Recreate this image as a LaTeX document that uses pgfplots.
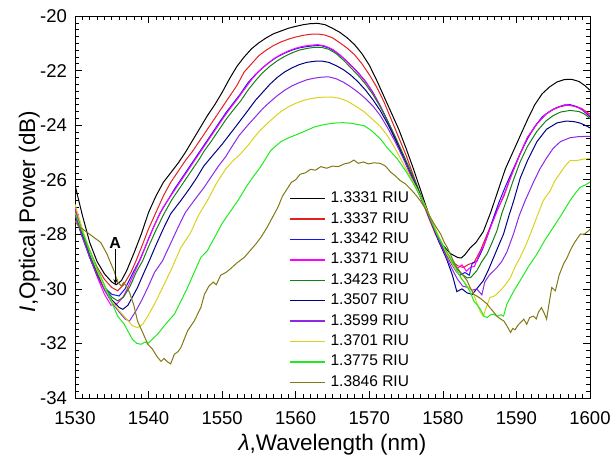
\documentclass[border=0pt]{standalone}
\usepackage{fontspec}
\setmainfont{Liberation Sans}
\usepackage{pgfplots}
\pgfplotsset{compat=1.18}
\usetikzlibrary{arrows.meta}
\definecolor{cblack}{RGB}{0,0,0}
\definecolor{cred}{RGB}{228,32,32}
\definecolor{cblue}{RGB}{20,20,240}
\definecolor{cmag}{RGB}{255,0,255}
\definecolor{cdgreen}{RGB}{20,128,20}
\definecolor{cnavy}{RGB}{0,0,130}
\definecolor{cpurple}{RGB}{140,40,230}
\definecolor{cyellow}{RGB}{218,210,30}
\definecolor{clgreen}{RGB}{30,235,30}
\definecolor{colive}{RGB}{130,120,20}
\begin{document}
\begin{tikzpicture}
\useasboundingbox (-75bp,-61bp) rectangle (537bp,398bp);
\begin{axis}[
  at={(0,0)}, anchor=south west,
  scale only axis, width=515bp, height=382bp,
  xmin=1530, xmax=1600, ymin=-34, ymax=-20,
  xtick={1530,1540,1550,1560,1570,1580,1590,1600},
  xticklabels={1530,1540,1550,1560,1570,1580,1590,1600},
  ytick={-34,-32,-30,-28,-26,-24,-22,-20},
  yticklabels={-34,-32,-30,-28,-26,-24,-22,-20},
  minor x tick num=9, minor y tick num=7,
  tick align=inside,
  major tick length=7bp, minor tick length=4bp,
  tick style={black, line width=0.6bp},
  axis line style={line width=0.8bp},
  ticklabel style={font=\fontsize{18.5bp}{20bp}\selectfont},
  xticklabel style={yshift=-10bp},
  yticklabel style={xshift=-4.5bp},
  xlabel={\textit{λ},Wavelength (nm)},
  ylabel={\textit{I},Optical Power (dB)},
  label style={font=\fontsize{22.5bp}{24bp}\selectfont},
  xlabel style={at={(axis description cs:0.5,-0.138)}, anchor=base},
  ylabel style={at={(axis description cs:-0.0775,0.488)}, anchor=base},
  every axis plot/.append style={line width=1bp},
  legend cell align=left,
  legend image code/.code={\draw[#1, line width=1.4bp] (0bp,0bp) -- (35bp,0bp);},
  legend style={draw=none, fill=none, at={(axis description cs:0.4155,0.542)}, anchor=north west,
    font=\fontsize{15.5bp}{17bp}\selectfont, row sep=5.4bp, inner sep=0pt,
    nodes={inner sep=0pt, text height=11.5bp, text depth=3.5bp},
    /tikz/every odd column/.append style={column sep=5bp}},
]
\addplot[cblack] coordinates {(1530,-26.2)(1531,-27.3)(1532,-28.3)(1533,-29.0)(1534,-29.45)(1535,-29.75)(1535.6,-29.85)(1536.3,-29.7)(1537,-29.35)(1538,-28.7)(1539,-28.0)(1540,-27.2)(1541,-26.6)(1542,-26.1)(1543,-25.75)(1544,-25.4)(1545,-25.0)(1546,-24.55)(1547,-24.1)(1548,-23.65)(1549,-23.25)(1550,-22.8)(1551,-22.3)(1552,-21.85)(1553,-21.5)(1554,-21.2)(1555,-20.98)(1556,-20.8)(1557,-20.65)(1558,-20.55)(1559,-20.45)(1560,-20.38)(1561,-20.32)(1562,-20.28)(1563,-20.27)(1564,-20.32)(1565,-20.45)(1566,-20.6)(1567,-20.8)(1568,-21.05)(1569,-21.38)(1570,-21.8)(1571,-22.35)(1572,-22.95)(1573,-23.55)(1574,-24.15)(1575,-24.85)(1576,-25.6)(1577,-26.4)(1578,-27.2)(1579,-27.9)(1580,-28.4)(1581,-28.7)(1582,-28.85)(1582.5,-28.87)(1583,-28.75)(1583.7,-28.5)(1584.5,-28.3)(1585.5,-27.9)(1586.5,-27.2)(1587.5,-26.4)(1588.5,-25.6)(1589.5,-25.0)(1590.5,-24.4)(1591.5,-23.8)(1592.5,-23.25)(1593.5,-22.85)(1594.5,-22.6)(1595.5,-22.42)(1596.5,-22.33)(1597.5,-22.32)(1598.5,-22.4)(1599.3,-22.55)(1600,-22.72)};
\addlegendentry{1.3331 RIU}
\addplot[cred] coordinates {(1530,-27.1)(1531,-27.9)(1532,-28.6)(1533,-29.2)(1534,-29.65)(1535,-29.95)(1535.8,-30.07)(1536.6,-29.85)(1537.6,-29.4)(1538.3,-28.97)(1539,-28.5)(1540,-27.8)(1541,-27.2)(1542,-26.6)(1543,-26.1)(1544,-25.7)(1545,-25.3)(1546,-24.95)(1547,-24.55)(1548,-24.15)(1549,-23.75)(1550,-23.35)(1551,-22.95)(1552,-22.55)(1553,-22.05)(1554,-21.75)(1555,-21.45)(1556,-21.25)(1557,-21.08)(1558,-20.95)(1559,-20.85)(1560,-20.77)(1561,-20.71)(1562,-20.67)(1563,-20.66)(1564,-20.7)(1565,-20.8)(1566,-20.98)(1567,-21.18)(1568,-21.42)(1569,-21.75)(1570,-22.15)(1571,-22.6)(1572,-23.15)(1573,-23.8)(1574,-24.45)(1575,-25.1)(1576,-25.85)(1577,-26.6)(1578,-27.35)(1579,-28.0)(1580,-28.55)(1581,-28.95)(1582,-29.15)(1582.8,-29.22)(1583.5,-29.1)(1584.2,-29.05)(1585.1,-28.6)(1586.4,-27.75)(1587.3,-27.15)(1588.3,-26.6)(1589.3,-25.85)(1590.5,-25.05)(1591.5,-24.45)(1592.8,-23.95)(1594,-23.6)(1595,-23.42)(1596,-23.32)(1596.9,-23.27)(1597.8,-23.3)(1598.8,-23.38)(1600,-23.6)};
\addlegendentry{1.3337 RIU}
\addplot[cblue] coordinates {(1530,-27.2)(1531,-28.0)(1532,-28.8)(1533,-29.45)(1534,-29.95)(1535,-30.2)(1536,-30.26)(1536.8,-30.0)(1537.8,-29.45)(1538.75,-28.97)(1539.5,-28.5)(1540.5,-27.85)(1541.5,-27.25)(1542.6,-26.76)(1543.5,-26.35)(1544.5,-25.95)(1545.5,-25.55)(1546.5,-25.15)(1547.5,-24.75)(1548.5,-24.35)(1549.5,-23.95)(1550.5,-23.55)(1551.5,-23.2)(1552.5,-22.85)(1553.5,-22.45)(1554.5,-22.15)(1555.5,-21.9)(1556.5,-21.68)(1557.5,-21.5)(1558.5,-21.36)(1559.5,-21.25)(1560.5,-21.17)(1561.5,-21.12)(1562.5,-21.09)(1563.5,-21.09)(1564.5,-21.17)(1565.5,-21.33)(1566.5,-21.55)(1567.5,-21.8)(1568.5,-22.08)(1569.5,-22.4)(1570.5,-22.8)(1571.5,-23.3)(1572.5,-23.85)(1573.5,-24.45)(1574.5,-25.1)(1575.5,-25.75)(1576.5,-26.35)(1577.5,-26.95)(1578.5,-27.6)(1579.5,-28.2)(1580.5,-28.75)(1581.2,-29.1)(1581.8,-29.35)(1582.3,-29.5)(1583,-29.4)(1583.6,-29.5)(1584,-29.05)(1584.6,-29.0)(1585.4,-28.55)(1586.2,-27.95)(1587,-27.3)(1587.6,-26.85)(1588.5,-26.25)(1589.5,-25.65)(1590.5,-25.05)(1591.5,-24.5)(1592.5,-24.05)(1593.5,-23.7)(1594.5,-23.5)(1595.5,-23.35)(1596.5,-23.26)(1597.3,-23.25)(1598.2,-23.32)(1599,-23.45)(1600,-23.7)};
\addlegendentry{1.3342 RIU}
\addplot[cmag] coordinates {(1530,-27.0)(1531,-27.9)(1532,-28.8)(1533,-29.55)(1534,-30.2)(1534.9,-30.6)(1535.7,-30.55)(1536.5,-30.32)(1537.1,-30.0)(1538,-29.45)(1539,-28.85)(1540,-28.15)(1541,-27.55)(1542,-27.0)(1543,-26.6)(1544,-26.2)(1545,-25.8)(1546,-25.4)(1547,-25.0)(1548,-24.6)(1549,-24.2)(1550,-23.8)(1551,-23.42)(1552,-23.07)(1553,-22.7)(1554,-22.33)(1555,-22.02)(1556,-21.78)(1557,-21.57)(1558,-21.41)(1559,-21.28)(1560,-21.18)(1561,-21.11)(1562,-21.07)(1563,-21.05)(1564,-21.1)(1565,-21.22)(1566,-21.42)(1567,-21.68)(1568,-21.95)(1569,-22.25)(1570,-22.6)(1571,-23.05)(1572,-23.58)(1573,-24.15)(1574,-24.78)(1575,-25.42)(1576,-26.05)(1577,-26.68)(1578,-27.3)(1579,-27.9)(1580,-28.45)(1581,-28.9)(1582,-29.25)(1582.6,-29.12)(1583.2,-29.35)(1583.8,-29.2)(1584.3,-29.18)(1585,-28.7)(1585.6,-28.4)(1586.4,-27.8)(1587.3,-27.2)(1588.3,-26.55)(1589.3,-25.85)(1590.5,-25.05)(1591.5,-24.45)(1592.8,-23.95)(1594,-23.6)(1595,-23.42)(1596,-23.31)(1596.9,-23.26)(1597.8,-23.3)(1598.8,-23.4)(1600,-23.65)};
\addlegendentry{1.3371 RIU}
\addplot[cdgreen] coordinates {(1530,-27.2)(1531,-28.0)(1532,-28.75)(1533,-29.4)(1534,-29.95)(1535,-30.3)(1535.8,-30.44)(1536.6,-30.3)(1537.5,-29.9)(1538.3,-29.4)(1539.2,-28.97)(1540,-28.45)(1541,-27.85)(1542,-27.3)(1543.1,-26.76)(1544,-26.4)(1545,-26.0)(1546,-25.6)(1547,-25.2)(1547.6,-24.93)(1548.5,-24.6)(1549.5,-24.2)(1550.5,-23.8)(1551.5,-23.45)(1552.5,-23.12)(1553.5,-22.72)(1554.5,-22.38)(1555.5,-22.08)(1556.5,-21.84)(1557.5,-21.64)(1558.5,-21.48)(1559.5,-21.35)(1560.5,-21.25)(1561.5,-21.19)(1562.5,-21.15)(1563.5,-21.15)(1564.5,-21.22)(1565.5,-21.38)(1566.5,-21.62)(1567.5,-21.9)(1568.5,-22.18)(1569.5,-22.5)(1570.5,-22.88)(1571.5,-23.33)(1572.5,-23.85)(1573.5,-24.4)(1574.5,-25.0)(1575.5,-25.6)(1576.5,-26.22)(1577.5,-26.9)(1578.5,-27.55)(1579.5,-28.2)(1580.5,-28.75)(1581.5,-29.12)(1582.5,-29.45)(1583.3,-29.6)(1583.8,-29.58)(1584.6,-29.34)(1585.3,-29.0)(1586,-28.72)(1586.7,-28.3)(1587.35,-27.87)(1588,-27.25)(1588.7,-26.72)(1589.5,-26.08)(1590.5,-25.35)(1591.5,-24.78)(1592.8,-24.22)(1594,-23.85)(1595,-23.65)(1596,-23.52)(1597.3,-23.46)(1598.5,-23.5)(1599.3,-23.6)(1600,-23.76)};
\addlegendentry{1.3423 RIU}
\addplot[cnavy] coordinates {(1530,-27.3)(1531,-28.1)(1532,-28.85)(1533,-29.5)(1534,-30.0)(1535,-30.4)(1536,-30.68)(1536.5,-30.75)(1537.2,-30.6)(1538,-30.2)(1538.5,-29.95)(1539.3,-29.45)(1540.1,-28.97)(1541,-28.4)(1542,-27.8)(1543,-27.25)(1544.4,-26.76)(1545.5,-26.35)(1546.5,-25.95)(1547.5,-25.5)(1548.9,-25.05)(1550,-24.7)(1551,-24.35)(1552,-24.0)(1553.4,-23.5)(1554.5,-23.1)(1555.5,-22.8)(1556.5,-22.5)(1557.5,-22.25)(1558.5,-22.05)(1559.5,-21.9)(1560.5,-21.78)(1561.5,-21.7)(1562.5,-21.66)(1563.5,-21.65)(1564.5,-21.7)(1565.5,-21.82)(1566.5,-21.97)(1567.5,-22.17)(1568.5,-22.42)(1569.5,-22.72)(1570.5,-23.07)(1571.5,-23.47)(1572.5,-23.95)(1573.5,-24.5)(1574.5,-25.1)(1575.5,-25.7)(1576.5,-26.3)(1577.5,-26.95)(1578.5,-27.6)(1579.5,-28.3)(1580.5,-28.9)(1581.3,-29.5)(1581.9,-30.1)(1582.6,-30.0)(1583.3,-30.15)(1584,-30.2)(1584.6,-30.0)(1585.5,-29.7)(1586.2,-29.3)(1586.9,-28.85)(1587.6,-28.4)(1588.25,-27.99)(1589,-27.3)(1589.6,-26.8)(1590.5,-25.95)(1591.5,-25.3)(1592.8,-24.6)(1594.1,-24.15)(1595.5,-23.92)(1596.8,-23.85)(1597.8,-23.87)(1598.6,-23.92)(1599.3,-24.0)(1600,-24.1)};
\addlegendentry{1.3507 RIU}
\addplot[cpurple] coordinates {(1530,-27.3)(1531,-28.1)(1532,-28.85)(1533,-29.5)(1534,-30.05)(1535,-30.5)(1536,-30.85)(1536.8,-31.1)(1537.4,-31.18)(1538.3,-30.8)(1539.1,-30.4)(1539.9,-29.95)(1540.8,-29.4)(1541.9,-28.97)(1542.8,-28.45)(1544,-27.75)(1545,-27.2)(1546.2,-26.76)(1547.5,-26.3)(1548.5,-25.9)(1549.5,-25.5)(1550.5,-25.15)(1551.3,-24.8)(1552.3,-24.38)(1553.5,-24.0)(1554.5,-23.7)(1555.5,-23.4)(1556.5,-23.15)(1557.5,-22.92)(1558.5,-22.72)(1559.5,-22.56)(1560.5,-22.44)(1561.5,-22.34)(1562.5,-22.28)(1563.5,-22.24)(1564.5,-22.23)(1565.5,-22.3)(1566.5,-22.43)(1567.5,-22.6)(1568.5,-22.8)(1569.5,-23.03)(1570.5,-23.3)(1571.5,-23.65)(1572.5,-24.1)(1573.5,-24.6)(1574.5,-25.15)(1575.5,-25.75)(1576.5,-26.35)(1577.5,-26.95)(1578.5,-27.6)(1579.5,-28.25)(1580.5,-28.85)(1581.3,-29.3)(1582,-29.65)(1582.7,-29.9)(1583.4,-29.95)(1584,-30.05)(1584.6,-30.0)(1585.3,-30.22)(1585.7,-29.75)(1586.3,-29.5)(1587.35,-29.22)(1588,-29.0)(1588.7,-28.65)(1589.6,-27.99)(1590.4,-27.3)(1591.2,-26.76)(1592.3,-26.1)(1593.2,-25.6)(1594.1,-25.2)(1595,-24.85)(1596,-24.6)(1597.3,-24.46)(1598.5,-24.42)(1600,-24.41)};
\addlegendentry{1.3599 RIU}
\addplot[cyellow] coordinates {(1530,-26.9)(1531,-27.8)(1532,-28.6)(1533,-29.3)(1534,-29.95)(1535,-30.45)(1536,-30.8)(1537,-31.1)(1537.8,-31.35)(1538.5,-31.42)(1539.2,-31.3)(1540,-30.95)(1540.8,-30.56)(1542,-29.9)(1543,-29.34)(1544.4,-28.48)(1545.7,-27.95)(1546.8,-27.3)(1548,-26.76)(1549.3,-26.1)(1550.5,-25.6)(1551.5,-25.3)(1552.5,-25.05)(1553.5,-24.75)(1554.5,-24.4)(1555.5,-24.1)(1556.5,-23.85)(1557.2,-23.68)(1558,-23.5)(1559,-23.33)(1560,-23.2)(1561.1,-23.09)(1562,-23.03)(1563,-22.99)(1564,-22.97)(1565,-22.97)(1566,-23.02)(1567,-23.12)(1568,-23.28)(1569.25,-23.5)(1570.5,-23.8)(1571.5,-24.05)(1572.5,-24.4)(1573.5,-24.85)(1574.5,-25.35)(1575.5,-25.85)(1576.5,-26.35)(1577.5,-26.9)(1578.5,-27.5)(1579.5,-28.1)(1580.5,-28.7)(1581.5,-29.2)(1582.5,-29.6)(1583.3,-29.9)(1584,-30.07)(1584.6,-30.5)(1585.1,-30.85)(1585.5,-31.0)(1586,-30.6)(1586.4,-30.32)(1587.1,-30.25)(1587.8,-30.07)(1588.5,-29.85)(1589.2,-29.58)(1589.8,-29.2)(1590.5,-28.85)(1591.2,-28.45)(1591.9,-27.99)(1592.8,-27.35)(1593.65,-26.76)(1594.6,-26.4)(1595.2,-26.05)(1595.9,-25.78)(1596.6,-25.5)(1597.3,-25.3)(1598.2,-25.3)(1599,-25.25)(1600,-25.22)};
\addlegendentry{1.3701 RIU}
\addplot[clgreen] coordinates {(1530,-27.2)(1531,-27.9)(1532,-28.6)(1533,-29.25)(1534,-29.85)(1535,-30.5)(1535.8,-31.0)(1536.7,-31.3)(1537.3,-31.6)(1537.8,-31.85)(1538.4,-32.0)(1539,-32.03)(1539.5,-31.95)(1539.9,-32.0)(1540.5,-31.85)(1541.2,-31.67)(1542.3,-31.3)(1543.5,-30.93)(1544.4,-30.45)(1545.3,-29.95)(1546.2,-29.4)(1547.1,-28.85)(1548,-28.6)(1549,-28.1)(1550,-27.6)(1551.2,-27.13)(1552.3,-26.7)(1553.3,-26.25)(1554.2,-25.9)(1555.2,-25.54)(1556.6,-24.93)(1558,-24.6)(1559,-24.47)(1560,-24.36)(1561,-24.25)(1562.5,-24.07)(1563.5,-24.0)(1564.5,-23.95)(1565.5,-23.92)(1566.5,-23.91)(1567.5,-23.93)(1568.5,-23.98)(1569.3,-24.02)(1570.3,-24.2)(1571.5,-24.5)(1572.5,-24.85)(1573.8,-25.23)(1575,-25.7)(1576,-26.15)(1577,-26.65)(1578,-27.25)(1579.2,-27.99)(1580,-28.4)(1581,-28.85)(1581.7,-29.2)(1582.4,-29.58)(1583,-29.8)(1583.7,-30.1)(1584.2,-30.44)(1584.7,-30.6)(1585.1,-30.75)(1585.6,-31.0)(1586,-31.05)(1586.5,-30.95)(1586.9,-30.93)(1587.4,-31.0)(1587.9,-30.95)(1588.25,-31.0)(1588.7,-30.56)(1589.6,-30.1)(1590.5,-29.7)(1591.6,-29.2)(1592.8,-28.72)(1593.9,-28.2)(1595,-27.75)(1596.2,-27.25)(1597.3,-26.76)(1598,-26.5)(1598.7,-26.27)(1599.3,-26.2)(1600,-26.09)};
\addlegendentry{1.3775 RIU}
\addplot[colive] coordinates {(1530,-27.5)(1530.4,-27.68)(1531.5,-27.9)(1532.5,-28.1)(1533.5,-28.3)(1534.3,-28.7)(1535.3,-29.34)(1535.8,-29.75)(1536.3,-29.9)(1536.6,-29.77)(1537,-29.9)(1537.4,-30.13)(1538,-30.6)(1538.5,-31.18)(1539.2,-31.6)(1539.9,-32.03)(1540.5,-32.2)(1541.2,-32.5)(1541.7,-32.66)(1542.1,-32.55)(1542.6,-32.68)(1543,-32.75)(1543.5,-32.4)(1544,-32.3)(1544.4,-32.15)(1545.3,-31.54)(1546.2,-31.18)(1547.1,-30.69)(1547.6,-30.2)(1548.2,-29.9)(1548.8,-29.75)(1549.2,-29.85)(1549.8,-29.5)(1550.5,-29.4)(1551.2,-29.25)(1552,-29.05)(1553,-28.85)(1553.8,-28.6)(1554.6,-28.35)(1555.3,-28.1)(1556.1,-27.75)(1557,-27.3)(1557.6,-27.0)(1558.2,-26.6)(1558.8,-26.35)(1559.4,-26.1)(1560,-26.0)(1560.6,-25.8)(1561.3,-25.75)(1562,-25.62)(1562.7,-25.65)(1563.4,-25.52)(1564.2,-25.58)(1565,-25.5)(1565.8,-25.52)(1566.6,-25.42)(1567.3,-25.38)(1567.9,-25.28)(1568.5,-25.4)(1569.2,-25.35)(1569.9,-25.42)(1570.6,-25.38)(1571.5,-25.4)(1572.2,-25.5)(1572.9,-25.72)(1573.5,-25.85)(1574.2,-26.03)(1574.9,-26.15)(1575.6,-26.34)(1576.3,-26.55)(1576.9,-26.76)(1577.6,-27.05)(1578.3,-27.38)(1579,-27.7)(1579.7,-27.99)(1580.2,-28.3)(1580.6,-28.48)(1581.3,-28.9)(1581.9,-29.22)(1582.6,-29.45)(1583.3,-29.7)(1583.7,-29.95)(1584.2,-30.2)(1584.6,-30.26)(1585.1,-30.35)(1585.5,-30.44)(1586,-30.55)(1586.4,-30.69)(1586.9,-30.85)(1587.35,-31.0)(1587.8,-31.1)(1588.3,-31.18)(1588.8,-31.4)(1589.2,-31.6)(1589.5,-31.45)(1589.8,-31.5)(1590.3,-31.3)(1590.7,-31.2)(1591,-31.11)(1591.4,-31.3)(1591.8,-31.05)(1592.3,-31.0)(1592.7,-31.1)(1593,-30.85)(1593.4,-30.69)(1593.8,-30.9)(1594.1,-31.11)(1594.4,-30.6)(1594.8,-29.95)(1595.3,-30.07)(1595.8,-29.5)(1596.4,-29.09)(1596.9,-28.85)(1597.3,-28.6)(1597.9,-28.3)(1598.7,-27.99)(1599.2,-28.0)(1599.8,-27.87)(1600,-27.82)};
\addlegendentry{1.3846 RIU}
\draw[-{Stealth[length=5bp,width=4bp]}, line width=0.7bp] (axis cs:1535.5,-28.55) -- (axis cs:1535.5,-29.83);
\node[font=\bfseries\fontsize{16bp}{18bp}\selectfont, inner sep=0pt] at (axis cs:1535.45,-28.33) {A};
\end{axis}
\end{tikzpicture}
\end{document}
